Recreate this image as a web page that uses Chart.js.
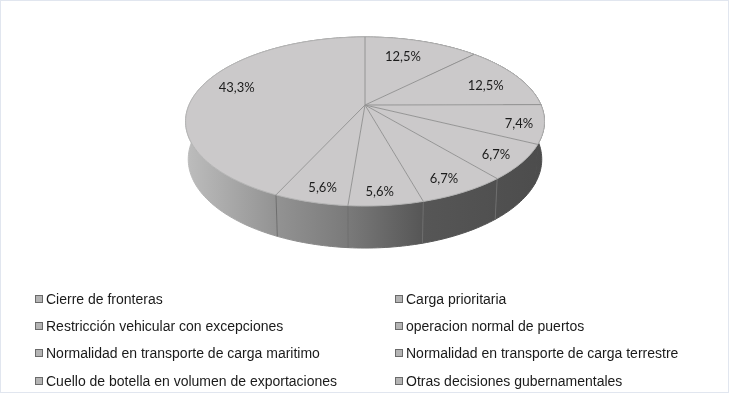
<!DOCTYPE html>
<html>
<head>
<meta charset="utf-8">
<style>
    html, body { margin: 0; padding: 0; background: #fff; }
    #wrap { position: relative; width: 729px; height: 393px; overflow: hidden; }
    #frame { position: absolute; left: 0; top: 0; width: 727px; height: 391px; border: 1px solid #e1e6ef; pointer-events: none; }
    #myChart { position: absolute; left: 0; top: 0; }
    #legend { position: absolute; left: 35px; top: 285px; display: grid; grid-template-columns: 360px 320px; grid-auto-rows: 27.4px;
        font: 14px "Liberation Sans", Arial, sans-serif; color: #1a1a1a; }
    #legend div { display: flex; align-items: center; white-space: nowrap; }
    #legend i { display: inline-block; box-sizing: border-box; width: 8px; height: 8px; margin-right: 3px; background: #b4b4b4; border: 1px solid #6a6a6a; }
</style>
</head>
<body>
<div id="wrap">
    <canvas id="myChart" width="729" height="393"></canvas>
    <div id="legend"></div>
    <div id="frame"></div>
</div>
<script src="https://cdn.jsdelivr.net/npm/chart.js@4"></script>
<script>
const categories = [
    'Cierre de fronteras',
    'Carga prioritaria',
    'Restricción vehicular con excepciones',
    'operacion normal de puertos',
    'Normalidad en transporte de carga maritimo',
    'Normalidad en transporte de carga terrestre',
    'Cuello de botella en volumen de exportaciones',
    'Otras decisiones gubernamentales'
];
const shares = [12.5, 12.5, 7.4, 6.7, 6.7, 5.6, 5.6, 43.3];

// Where each label sits in its slice: fraction of the radius, degrees off the middle
const labelReach = [0.71, 0.76, 0.866, 0.86, 0.86, 0.887, 0.877, 0.794];
const labelTurn = [-2.4, 3.7, 1.6, 1.05, 1.3, 1.1, -1.3, 4.3];

// Perspective of the tilted disc, the apex is not the centre of the ellipse
const pie = { x: 365, y: 105, rx: 176, ry: 81.3, k: -0.195 };
const wall = { sx: 0.985, sy: 1.05, dy: 37 };

function project(angle, r) {
    const u = Math.cos(angle) * r;
    const v = Math.sin(angle) * r;
    const w = 1 + pie.k * v;
    return { x: pie.rx * u / w, y: pie.ry * v / w };
}

function topPoint(angle, r) {
    const p = project(angle, r);
    return { x: pie.x + p.x, y: pie.y + p.y };
}

function bottomPoint(angle) {
    const p = project(angle, 1);
    return { x: pie.x + p.x * wall.sx, y: pie.y + wall.dy + p.y * wall.sy };
}

function anglesBetween(start, end) {
    const list = [];
    const steps = Math.max(2, Math.ceil((end - start) / 0.02));
    for (let i = 0; i <= steps; i++) {
        list.push(start + (end - start) * i / steps);
    }
    return list;
}

// Draws the arcs the pie controller worked out as a tilted 3D disc
const tiltedPie = {
    id: 'tiltedPie',
    beforeDatasetsDraw(chart) {
        const ctx = chart.ctx;
        const arcs = chart.getDatasetMeta(0).data;

        const shade = ctx.createLinearGradient(186, 0, 545, 0);
        shade.addColorStop(0, '#bdbdbd');
        shade.addColorStop(0.25, '#939393');
        shade.addColorStop(0.45, '#7a7a7a');
        shade.addColorStop(0.66, '#565656');
        shade.addColorStop(1, '#4c4c4c');

        // side wall, stroked too so no seam shows between the slices
        arcs.forEach(arc => {
            const angles = anglesBetween(arc.startAngle, arc.endAngle);
            ctx.beginPath();
            angles.forEach((a, i) => {
                const p = topPoint(a, 1);
                if (i === 0) ctx.moveTo(p.x, p.y);
                else ctx.lineTo(p.x, p.y);
            });
            angles.slice().reverse().forEach(a => {
                const p = bottomPoint(a);
                ctx.lineTo(p.x, p.y);
            });
            ctx.closePath();
            ctx.fillStyle = shade;
            ctx.fill();
            ctx.strokeStyle = shade;
            ctx.lineWidth = 1;
            ctx.stroke();
        });

        // lines down the wall, only where it faces us
        arcs.forEach(arc => {
            if (Math.sin(arc.startAngle) <= 0.5) return;
            const a = topPoint(arc.startAngle, 1);
            const b = bottomPoint(arc.startAngle);
            ctx.beginPath();
            ctx.moveTo(a.x, a.y);
            ctx.lineTo(b.x, b.y);
            ctx.strokeStyle = '#6e6e6e';
            ctx.lineWidth = 1;
            ctx.stroke();
        });

        // top face, softer line on the rim than between the slices
        arcs.forEach(arc => {
            const angles = anglesBetween(arc.startAngle, arc.endAngle);
            ctx.beginPath();
            ctx.moveTo(pie.x, pie.y);
            angles.forEach(a => {
                const p = topPoint(a, 1);
                ctx.lineTo(p.x, p.y);
            });
            ctx.closePath();
            ctx.fillStyle = arc.options.backgroundColor;
            ctx.fill();

            ctx.beginPath();
            angles.forEach((a, i) => {
                const p = topPoint(a, 1);
                if (i === 0) ctx.moveTo(p.x, p.y);
                else ctx.lineTo(p.x, p.y);
            });
            ctx.strokeStyle = '#b4b4b4';
            ctx.lineWidth = arc.options.borderWidth;
            ctx.stroke();
        });
        arcs.forEach(arc => {
            const p = topPoint(arc.startAngle, 1);
            ctx.beginPath();
            ctx.moveTo(pie.x, pie.y);
            ctx.lineTo(p.x, p.y);
            ctx.strokeStyle = arc.options.borderColor;
            ctx.lineWidth = arc.options.borderWidth;
            ctx.stroke();
        });

        // labels
        ctx.font = '13px Lato, sans-serif';
        ctx.fillStyle = '#1c1c1c';
        ctx.textAlign = 'center';
        ctx.textBaseline = 'middle';
        arcs.forEach((arc, i) => {
            const mid = (arc.startAngle + arc.endAngle) / 2 + labelTurn[i] * Math.PI / 180;
            const p = topPoint(mid, labelReach[i]);
            ctx.fillText(shares[i].toFixed(1).replace('.', ',') + '%', p.x, p.y);
        });

        return false;
    }
};

const chart = new Chart(document.getElementById('myChart').getContext('2d'), {
    type: 'pie',
    data: {
        labels: categories,
        datasets: [{
            data: shares,
            backgroundColor: '#cbc9ca',
            borderColor: '#949494',
            borderWidth: 1
        }]
    },
    options: {
        responsive: false,
        animation: false,
        events: [],
        plugins: {
            legend: { display: false },
            tooltip: { enabled: false }
        }
    },
    plugins: [tiltedPie]
});

// Two column legend
const legend = document.getElementById('legend');
chart.data.labels.forEach(label => {
    const row = document.createElement('div');
    row.innerHTML = '<i></i>';
    row.appendChild(document.createTextNode(label));
    legend.appendChild(row);
});
</script>
</body>
</html>
